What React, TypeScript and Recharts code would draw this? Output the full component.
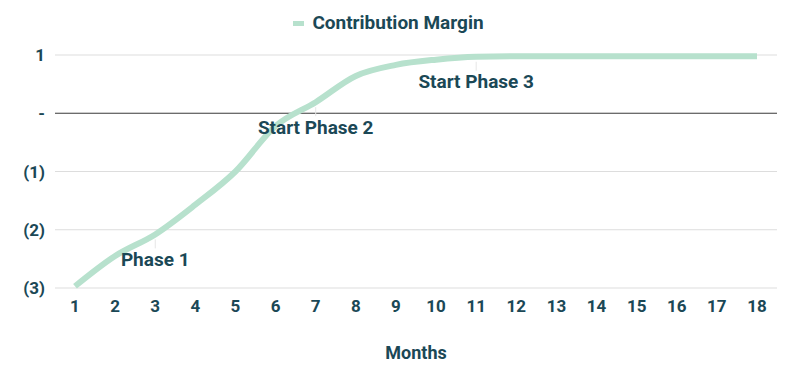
import React from 'react';
import { LineChart, Line, XAxis, YAxis, CartesianGrid, ReferenceLine, Legend, LabelList } from 'recharts';

const months = ['1', '2', '3', '4', '5', '6', '7', '8', '9', '10', '11', '12', '13', '14', '15', '16', '17', '18'];
const contributionMargin = [-2.97, -2.45, -2.08, -1.57, -1.0, -0.22, 0.19, 0.64, 0.83, 0.92, 0.97, 0.98, 0.98, 0.98, 0.98, 0.98, 0.98, 0.98];
const phaseLabels = ['', '', 'Phase 1', '', '', '', 'Start Phase 2', '', '', '', 'Start Phase 3', '', '', '', '', '', '', ''];
const yTicks = [-3, -2, -1, 0, 1];

const data = months.map((m, i) => ({ month: m, cm: contributionMargin[i], label: phaseLabels[i] }));

const TEXT = '#1b4856';
const LINE = '#b7e1cd';
const FONT = 'Roboto, "Noto Sans", sans-serif';

const fmtY = (v: number) => (v === 0 ? '-' : v < 0 ? `(${Math.abs(v)})` : `${v}`);

const PhaseLabel = (props: any) => {
  const { x, y, value } = props;
  if (!value) return null;
  return (
    <g>
      <line x1={x} x2={x} y1={y + 5} y2={y + 14} stroke="#e6e6e6" strokeWidth={1} />
      <text x={x} y={y + 25} textAnchor="middle" dominantBaseline="central" fill={TEXT} fontSize={19} fontWeight={700} fontFamily={FONT}>
        {value}
      </text>
    </g>
  );
};

const LegendContent = () => (
  <div style={{ height: 47, display: 'flex', justifyContent: 'center', alignItems: 'flex-start' }}>
    <div style={{ display: 'flex', alignItems: 'center', height: 28, fontFamily: FONT, fontWeight: 700, fontSize: 19, color: TEXT }}>
      <span style={{ display: 'inline-block', width: 11, height: 5, background: LINE, marginRight: 8, marginTop: 2 }} />
      <span>Contribution Margin</span>
    </div>
  </div>
);

export default function App() {
  return (
    <div style={{ position: 'absolute', left: 0, top: 0 }}>
      <LineChart width={795} height={378} data={data} margin={{ top: 8, right: 18, left: 0, bottom: 10 }}>
        <Legend verticalAlign="top" align="center" content={<LegendContent />} />
        <CartesianGrid vertical={false} stroke="#dddddd" />
        <XAxis
          dataKey="month"
          padding={{ left: 20, right: 20 }}
          axisLine={false}
          tickLine={false}
          tickMargin={6}
          height={80}
          tick={{ fill: TEXT, fontSize: 17, fontWeight: 700, fontFamily: FONT }}
          label={{ value: 'Months', position: 'insideBottom', offset: 9, fill: TEXT, fontSize: 18, fontWeight: 700, fontFamily: FONT }}
        />
        <YAxis
          width={55}
          domain={[-3, 1]}
          ticks={yTicks}
          tickFormatter={fmtY}
          axisLine={false}
          tickLine={false}
          tickMargin={4}
          tick={{ fill: TEXT, fontSize: 17, fontWeight: 700, fontFamily: FONT }}
        />
        <ReferenceLine y={0} stroke="#444444" strokeWidth={1} />
        <Line type="monotone" dataKey="cm" stroke={LINE} strokeWidth={6} dot={false} activeDot={false} isAnimationActive={false}>
          <LabelList dataKey="label" content={<PhaseLabel />} />
        </Line>
      </LineChart>
    </div>
  );
}
